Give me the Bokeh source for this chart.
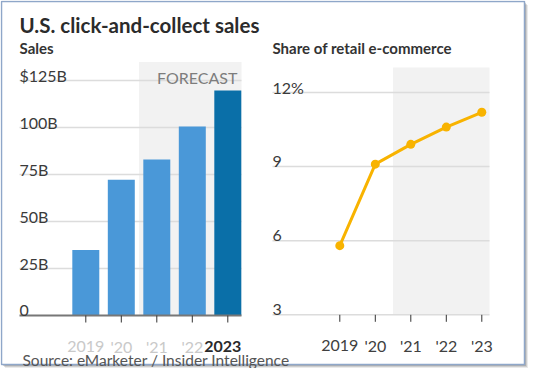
from bokeh.plotting import figure
from bokeh.models import Range1d
from bokeh.core.properties import value
from bokeh.embed import file_html
from bokeh.resources import INLINE

# ---------------- data ----------------
years = [2019, 2020, 2021, 2022, 2023]
sales = [34.9, 72.2, 83.0, 100.5, 119.7]          # $B
share = [5.8, 9.1, 9.9, 10.6, 11.2]               # % of retail e-commerce
bar_colors = ["#4a98d8", "#4a98d8", "#4a98d8", "#4a98d8", "#0a6fa8"]
sales_ticks = [0, 25, 50, 75, 100, 125]
sales_tick_labels = ["0", "25B", "50B", "75B", "100B", "$125B"]
share_ticks = [3, 6, 9, 12]
share_tick_labels = ["3", "6", "9", "12%"]
left_year_labels = ["2019", "'20", "'21", "'22"]
left_last_label = ["2023"]
right_year_labels = ["2019", "'20", "'21", "'22", "'23"]
forecast_start = 2020.5
title_text = "U.S. click-and-collect sales"
left_sub = "Sales"
right_sub = "Share of retail e-commerce"
forecast_text = "FORECAST"
source_text = "Source: eMarketer / Insider Intelligence"

FONT = value("Lato")

# ---------------- geometry (pixel -> data helpers) ----------------
W, H = 528, 368
OX, OY = 3, 3        # observed picture position of the canvas
KX = 35.5            # px per year
K1 = 235.0 / 125     # px per $B
K2 = 222.3 / 9       # px per percentage point


def lx(px):
    return 2019 + (px - 88.3) / KX


def ly(py):
    return (318 - py) / K1


def rx(px):
    return 2019 + (px - 342.3) / KX


def ry(py):
    return 3 + (317.3 - py) / K2


p = figure(width=W, height=H, output_backend="svg", toolbar_location=None,
           x_range=Range1d(lx(OX), lx(OX + W)), y_range=Range1d(ly(OY + H), ly(OY)),
           min_border=0, x_axis_location=None, y_axis_location=None,
           outline_line_color=None,
           background_fill_color="white", border_fill_color="white")
p.extra_x_ranges = {"r": Range1d(rx(OX), rx(OX + W))}
p.extra_y_ranges = {"r": Range1d(ry(OY + H), ry(OY))}
p.xgrid.visible = False
p.ygrid.visible = False

SHADE = "#f2f2f2"
GRID = "#dcdcdc"

# ---------------- card frame with soft shadow ----------------
cx0, cx1 = OX + 1, OX + W - 4
cy0, cy1 = OY + 1, OY + H - 4
for d, a in [(3.5, 0.12), (2.5, 0.18), (1.5, 0.25)]:
    p.quad(left=[lx(cx0 + d)], right=[lx(cx1 + d)], top=[ly(cy0 + d)],
           bottom=[ly(cy1 + d)], fill_color="#555555", fill_alpha=a, line_color=None)
p.quad(left=[lx(cx0)], right=[lx(cx1)], top=[ly(cy0)], bottom=[ly(cy1)],
       fill_color="white", line_color="#8fa7c9", line_width=1.5)

# ---------------- left chart: sales ----------------
l_left, l_right = lx(22), lx(244)
p.quad(left=[forecast_start], right=[l_right], bottom=[0], top=[ly(64.5)],
       fill_color=SHADE, line_color=None)
p.segment(x0=[l_left] * (len(sales_ticks) - 1), x1=[l_right] * (len(sales_ticks) - 1),
          y0=sales_ticks[1:], y1=sales_ticks[1:], line_color=GRID, line_width=1.5)
p.vbar(x=years, top=sales, width=0.76, fill_color=bar_colors, line_color=None)
p.segment(x0=[l_left], x1=[l_right], y0=[0], y1=[0], line_color="#777777", line_width=2)
p.segment(x0=years, x1=years, y0=[0] * len(years), y1=[-7 / K1] * len(years),
          line_color="#333333", line_width=1)
p.text(x=[l_left] * len(sales_ticks), y=sales_ticks, text=sales_tick_labels,
       y_offset=-5, text_font=FONT, text_font_size="16px", text_color="#3a3a3a",
       text_align="left", text_baseline="alphabetic")
p.text(x=[lx(240)], y=[ly(80)], text=[forecast_text], text_font=FONT,
       text_font_size="16px", text_color="#7d7d7d", text_align="right",
       text_baseline="alphabetic")
p.text(x=years[:4], y=[0] * 4, text=left_year_labels, y_offset=30.5,
       text_font=FONT, text_font_size="16px", text_color="#c9c9c9",
       text_align="center", text_baseline="alphabetic")
p.text(x=[years[4] + 0.38], y=[0], text=left_last_label, y_offset=30.5,
       text_font=FONT, text_font_size="16px", text_font_style="bold",
       text_color="#2a2a2a", text_align="right", text_baseline="alphabetic",
       background_fill_color="white")

# ---------------- right chart: share ----------------
r_left, r_right = rx(275), rx(492)
p.quad(left=[forecast_start], right=[r_right], bottom=[3], top=[ry(70)],
       fill_color=SHADE, line_color=None, x_range_name="r", y_range_name="r")
p.segment(x0=[r_left] * len(share_ticks), x1=[r_right] * len(share_ticks),
          y0=share_ticks, y1=share_ticks, line_color=GRID, line_width=1.5,
          x_range_name="r", y_range_name="r")
p.segment(x0=years, x1=years, y0=[3] * len(years), y1=[3 - 7 / K2] * len(years),
          line_color="#333333", line_width=1, x_range_name="r", y_range_name="r")
p.line(x=years, y=share, line_color="#f8b300", line_width=3,
       x_range_name="r", y_range_name="r")
p.scatter(x=years, y=share, size=9, fill_color="#f8b300", line_color=None,
          x_range_name="r", y_range_name="r")
p.text(x=[r_left] * len(share_ticks), y=share_ticks, text=share_tick_labels,
       y_offset=-5.5, text_font=FONT, text_font_size="16px", text_color="#3a3a3a",
       text_align="left", text_baseline="alphabetic",
       x_range_name="r", y_range_name="r")
p.text(x=years, y=[3] * len(years), text=right_year_labels, y_offset=31,
       text_font=FONT, text_font_size="16px", text_color="#404040",
       text_align="center", text_baseline="alphabetic",
       x_range_name="r", y_range_name="r")

# ---------------- titles & source ----------------
p.text(x=[lx(22)], y=[ly(27.7)], text=[title_text], text_font=FONT,
       text_font_size="20.5px", text_font_style="bold", text_color="#2b2b2b",
       text_align="left", text_baseline="alphabetic")
p.text(x=[lx(22)], y=[ly(50.7)], text=[left_sub], text_font=FONT,
       text_font_size="15px", text_font_style="bold", text_color="#333333",
       text_align="left", text_baseline="alphabetic")
p.text(x=[rx(275)], y=[ry(50.3)], text=[right_sub], text_font=FONT,
       text_font_size="15px", text_font_style="bold", text_color="#333333",
       text_align="left", text_baseline="alphabetic",
       x_range_name="r", y_range_name="r")
p.text(x=[lx(25)], y=[ly(362.5)], text=[source_text], text_font=FONT,
       text_font_size="15.5px", text_color="#555555",
       text_align="left", text_baseline="alphabetic")

open("out.html", "w").write(file_html(p, INLINE))
